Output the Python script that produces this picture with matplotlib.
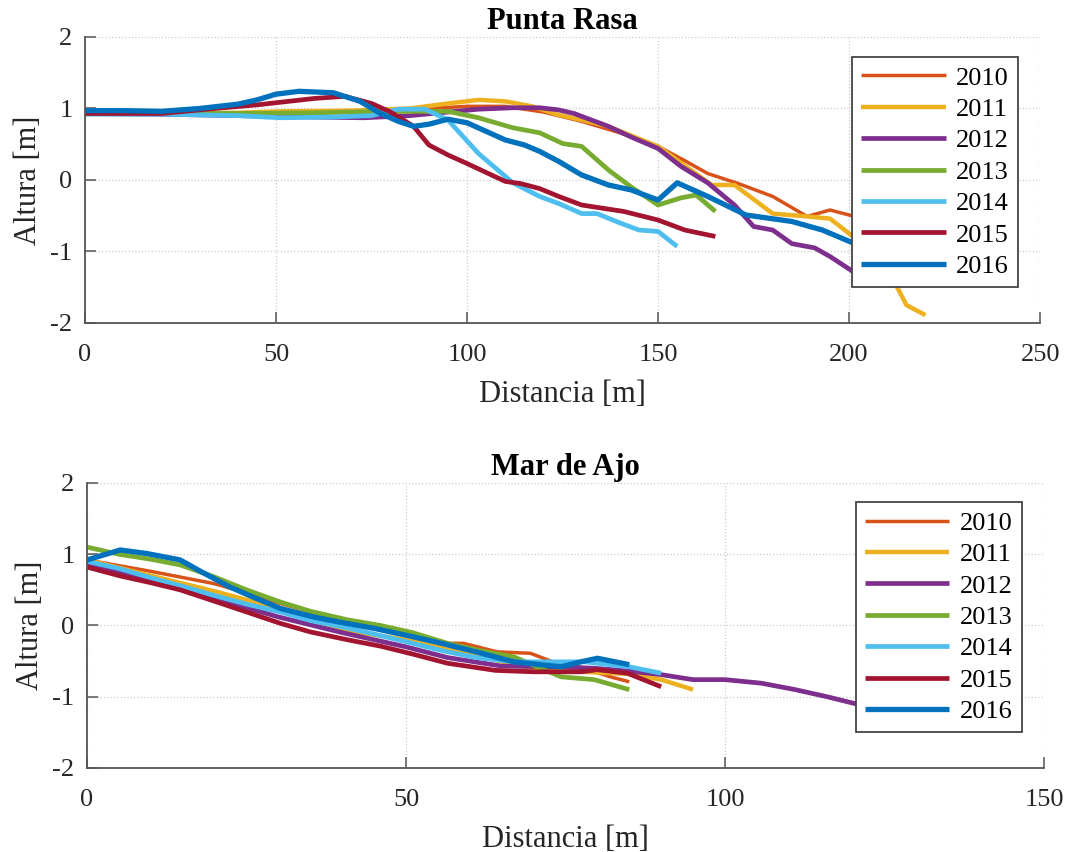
import matplotlib
matplotlib.use('Agg')
import matplotlib.pyplot as plt

plt.rcParams['font.family'] = 'Liberation Serif'
plt.rcParams['axes.unicode_minus'] = False

years = ['2010', '2011', '2012', '2013', '2014', '2015', '2016']
colors = ['#D95319', '#EDB120', '#7E2F8E', '#77AC30', '#4DBEEE', '#A2142F', '#0072BD']
widths = [2.5, 3.2, 3.4, 3.4, 3.4, 3.4, 3.8]

# Punta Rasa profiles (distance [m], height [m])
pr_x_2010 = [0, 20, 40, 60, 80, 90, 100, 110, 120, 130, 140, 150, 157, 163, 171, 180, 189, 195, 200, 205, 210]
pr_y_2010 = [0.93, 0.93, 0.93, 0.94, 0.96, 1.0, 1.03, 1.03, 0.95, 0.82, 0.66, 0.47, 0.27, 0.09, -0.05, -0.23, -0.51, -0.42, -0.49, -0.56, -0.7]
pr_x_2011 = [0, 20, 40, 51, 70, 85, 95, 103, 110, 117, 124, 130, 137, 143, 150, 157, 164, 170, 175, 180, 189, 195, 201, 206, 212, 215, 220]
pr_y_2011 = [0.93, 0.93, 0.94, 0.96, 0.97, 1.0, 1.07, 1.12, 1.1, 1.03, 0.91, 0.84, 0.75, 0.62, 0.47, 0.2, -0.07, -0.07, -0.27, -0.47, -0.51, -0.54, -0.79, -1.1, -1.44, -1.75, -1.89]
pr_x_2012 = [0, 20, 40, 60, 73, 85, 95, 103, 112, 119, 124, 128, 137, 143, 150, 156, 163, 170, 175, 180, 185, 191, 195, 201, 205]
pr_y_2012 = [0.93, 0.92, 0.9, 0.88, 0.87, 0.9, 0.95, 0.99, 1.01, 1.01, 0.98, 0.93, 0.75, 0.6, 0.44, 0.19, -0.04, -0.35, -0.65, -0.7, -0.89, -0.95, -1.07, -1.28, -1.45]
pr_x_2013 = [0, 20, 40, 60, 80, 87, 95, 103, 112, 119, 125, 130, 137, 143, 150, 156, 160, 165]
pr_y_2013 = [0.93, 0.93, 0.93, 0.94, 0.96, 0.96, 0.96, 0.87, 0.73, 0.66, 0.51, 0.47, 0.14, -0.1, -0.35, -0.25, -0.21, -0.44]
pr_x_2014 = [0, 20, 40, 51, 65, 75, 82, 89, 95, 103, 112, 119, 124, 130, 134, 140, 145, 150, 155]
pr_y_2014 = [0.92, 0.92, 0.9, 0.87, 0.88, 0.9, 0.99, 0.99, 0.84, 0.37, -0.04, -0.23, -0.33, -0.47, -0.47, -0.6, -0.7, -0.72, -0.93]
pr_x_2015 = [0, 20, 34, 45, 60, 68, 75, 80, 86, 90, 95, 100, 110, 114, 119, 124, 130, 141, 150, 157, 165]
pr_y_2015 = [0.93, 0.93, 1.0, 1.05, 1.14, 1.17, 1.07, 0.95, 0.75, 0.49, 0.35, 0.23, -0.02, -0.05, -0.12, -0.23, -0.35, -0.44, -0.56, -0.7, -0.79]
pr_x_2016 = [0, 10, 20, 30, 40, 45, 50, 56, 65, 72, 77, 82, 86, 90, 95, 100, 105, 110, 115, 119, 124, 130, 137, 143, 150, 155, 163, 173, 185, 193, 201, 205]
pr_y_2016 = [0.97, 0.97, 0.96, 1.0, 1.06, 1.12, 1.2, 1.24, 1.22, 1.1, 0.94, 0.82, 0.75, 0.78, 0.85, 0.8, 0.68, 0.56, 0.49, 0.4, 0.26, 0.07, -0.07, -0.14, -0.28, -0.04, -0.23, -0.49, -0.58, -0.7, -0.88, -0.95]

# Mar de Ajo profiles
ma_x_2010 = [0, 5, 10, 14.6, 19.8, 25, 30.3, 35, 40.8, 46, 51, 56.5, 59, 64.3, 69.5, 73, 78, 82, 85]
ma_y_2010 = [0.92, 0.84, 0.76, 0.68, 0.59, 0.46, 0.31, 0.19, 0.08, -0.05, -0.13, -0.25, -0.25, -0.37, -0.39, -0.51, -0.6, -0.72, -0.79]
ma_x_2011 = [0, 10, 20, 30, 40, 50, 60, 69.5, 77.4, 85, 90, 95]
ma_y_2011 = [0.92, 0.7, 0.48, 0.24, -0.06, -0.2, -0.4, -0.6, -0.65, -0.68, -0.76, -0.9]
ma_x_2012 = [0, 10, 20, 30, 40, 50, 56.5, 65, 74, 79.5, 85, 90, 95, 100, 105.7, 111, 116, 121, 125]
ma_y_2012 = [0.88, 0.62, 0.38, 0.12, -0.1, -0.3, -0.45, -0.57, -0.58, -0.6, -0.64, -0.69, -0.76, -0.76, -0.81, -0.9, -1.0, -1.11, -1.18]
ma_x_2013 = [0, 5, 10, 14.6, 20, 25, 30.3, 35, 40.8, 46, 51, 56.5, 62, 66.9, 70, 74.3, 79.5, 85]
ma_y_2013 = [1.1, 1.0, 0.93, 0.85, 0.68, 0.5, 0.33, 0.2, 0.08, 0.0, -0.1, -0.25, -0.36, -0.44, -0.56, -0.72, -0.76, -0.9]
ma_x_2014 = [0, 5, 10, 15, 20, 25, 30.3, 35, 40, 45, 51, 56, 61, 66.9, 74, 78, 85, 90]
ma_y_2014 = [0.9, 0.8, 0.67, 0.55, 0.42, 0.3, 0.19, 0.07, -0.02, -0.12, -0.25, -0.36, -0.45, -0.51, -0.51, -0.51, -0.58, -0.67]
ma_x_2015 = [0, 5, 10, 14.6, 20, 25, 30.3, 35, 40.8, 46, 51, 56.5, 64, 70, 77.4, 80, 84.7, 90]
ma_y_2015 = [0.82, 0.7, 0.6, 0.5, 0.34, 0.19, 0.03, -0.09, -0.2, -0.29, -0.4, -0.53, -0.63, -0.65, -0.65, -0.62, -0.67, -0.86]
ma_x_2016 = [0, 5.2, 9.4, 14.6, 18, 22.4, 26, 30.3, 35.5, 40, 45, 51.2, 56, 61, 66.9, 74.3, 77.4, 80, 85]
ma_y_2016 = [0.92, 1.06, 1.01, 0.92, 0.75, 0.54, 0.4, 0.24, 0.12, 0.04, -0.04, -0.16, -0.26, -0.37, -0.51, -0.58, -0.51, -0.46, -0.55]

pr_x = [pr_x_2010, pr_x_2011, pr_x_2012, pr_x_2013, pr_x_2014, pr_x_2015, pr_x_2016]
pr_y = [pr_y_2010, pr_y_2011, pr_y_2012, pr_y_2013, pr_y_2014, pr_y_2015, pr_y_2016]
ma_x = [ma_x_2010, ma_x_2011, ma_x_2012, ma_x_2013, ma_x_2014, ma_x_2015, ma_x_2016]
ma_y = [ma_y_2010, ma_y_2011, ma_y_2012, ma_y_2013, ma_y_2014, ma_y_2015, ma_y_2016]

fig = plt.figure(figsize=(10.69, 8.52), dpi=100)
ax1 = fig.add_axes([0.0795, 0.6209, 0.8935, 0.3357])
ax2 = fig.add_axes([0.0814, 0.0986, 0.8952, 0.3345])


def style_axis(ax, title, xmax, xstep):
    ax.set_xlim(0, xmax)
    ax.set_ylim(-2, 2)
    ax.set_xticks(range(0, xmax + 1, xstep))
    ax.set_yticks([-2, -1, 0, 1, 2])
    ax.grid(True, linestyle=':', color='#cccccc', linewidth=0.9)
    ax.set_axisbelow(True)
    for s in ['top', 'right']:
        ax.spines[s].set_visible(False)
    for s in ['left', 'bottom']:
        ax.spines[s].set_color('#555555')
        ax.spines[s].set_linewidth(1.3)
    ax.tick_params(direction='in', length=8, width=1.1, color='#555555',
                   labelsize=19, labelcolor='#262626')
    ax.tick_params(axis='x', pad=15)
    ax.tick_params(axis='y', pad=9)
    ax.set_xlabel('Distancia [m]', fontsize=22, color='#262626', labelpad=10)
    ax.set_ylabel('Altura [m]', fontsize=22, color='#262626', labelpad=5)
    ax.set_title(title, fontsize=22, fontweight='bold', pad=6)


for i in range(len(years)):
    ax1.plot(pr_x[i], pr_y[i], color=colors[i], linewidth=widths[i], label=years[i],
             solid_capstyle='butt', clip_on=False)
    ax2.plot(ma_x[i], ma_y[i], color=colors[i], linewidth=widths[i], label=years[i],
             solid_capstyle='butt', clip_on=False)

style_axis(ax1, 'Punta Rasa', 250, 50)
style_axis(ax2, 'Mar de Ajo', 150, 50)

for ax, anchor in [(ax1, (0.977, 0.930)), (ax2, (0.977, 0.933))]:
    leg = ax.legend(loc='upper right', bbox_to_anchor=anchor, fontsize=19,
                    fancybox=False, framealpha=1, edgecolor='#444444',
                    handlelength=3.2, labelspacing=0.3, borderpad=0.35,
                    handletextpad=0.4, borderaxespad=0)
    leg.get_frame().set_linewidth(1.3)
    leg.set_zorder(5)

fig.savefig('out.png', dpi=100)
